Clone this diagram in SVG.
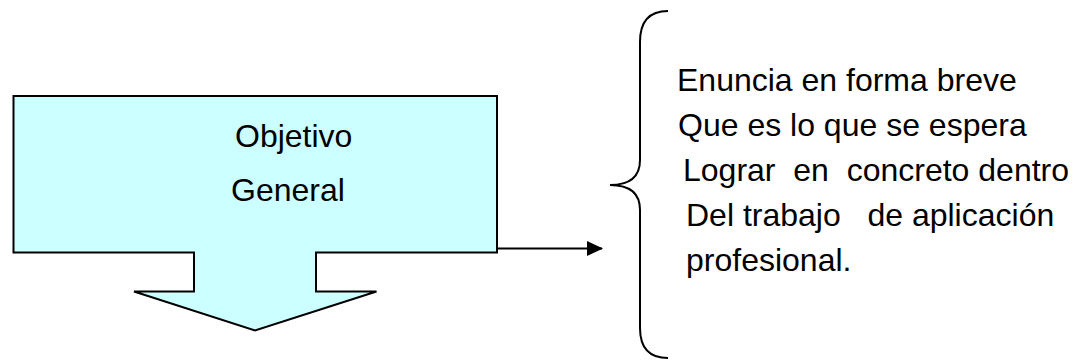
<svg xmlns="http://www.w3.org/2000/svg" width="1075" height="360" viewBox="0 0 1075 360">
  <style>
    .txt { font-family: "Liberation Sans", Arial, sans-serif; font-size: 32px; fill: #000; white-space: pre; }
    .shape { fill: #CCFFFF; stroke: #000; stroke-width: 2; stroke-linejoin: miter; }
    .line { fill: none; stroke: #000; stroke-width: 2; }
  </style>
  <defs>
    <marker id="arrow" markerWidth="8" markerHeight="8" refX="7.5" refY="4" orient="auto" markerUnits="strokeWidth">
      <path d="M0,0.3 L8,4 L0,7.7 Z" fill="#000"/>
    </marker>
  </defs>
  <rect width="1075" height="360" fill="#fff"/>
  <g id="objetivo-general">
    <polygon class="shape" points="13.5,96 497,96 497,252.5 316,252.5 316,291.5 376.5,291.5 255,330.5 134,291.5 194,291.5 194,252.5 13.5,252.5"/>
    <text class="txt" x="235" y="147">Objetivo</text>
    <text class="txt" x="231" y="201">General</text>
  </g>
  <g id="connectors">
    <line class="line" x1="497" y1="248.5" x2="602" y2="248.5" marker-end="url(#arrow)"/>
  </g>
  <g id="descripcion">
    <path class="line" d="M668,11 Q640,11 640,42 L640,160 Q640,185 610,185 Q640,185 640,210 L640,328 Q640,358 668,358"/>
    <text class="txt" x="677" y="91" xml:space="preserve">Enuncia en forma breve</text>
    <text class="txt" x="678" y="136" xml:space="preserve">Que es lo que se espera</text>
    <text class="txt" x="683" y="181" xml:space="preserve">Lograr  en  concreto dentro</text>
    <text class="txt" x="686" y="226" xml:space="preserve">Del trabajo   de aplicación</text>
    <text class="txt" x="686" y="271" xml:space="preserve">profesional.</text>
  </g>
</svg>
